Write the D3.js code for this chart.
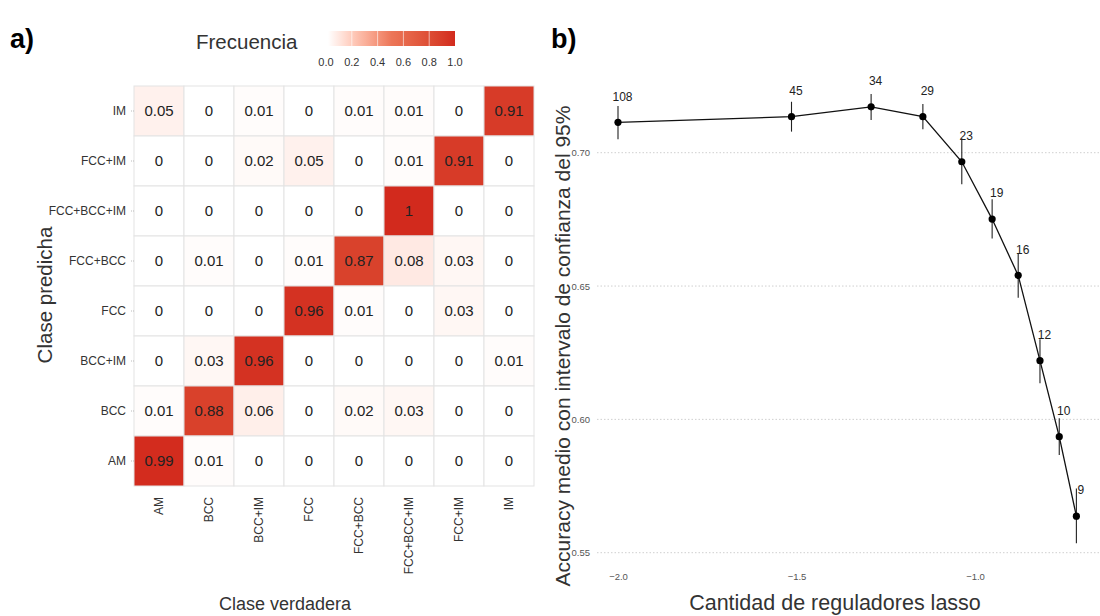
<!DOCTYPE html>
<html><head><meta charset="utf-8">
<script src="https://cdn.jsdelivr.net/npm/d3@7"></script>
<style>
html,body{margin:0;padding:0;background:#fff;}
svg{display:block;font-family:"Liberation Sans",Arial,Helvetica,sans-serif;}
</style></head>
<body><svg id="c" width="1100" height="616"></svg>
<script>
// ---------- Panel a data ----------
const trueClasses = ["AM","BCC","BCC+IM","FCC","FCC+BCC","FCC+BCC+IM","FCC+IM","IM"];
const predClasses = ["IM","FCC+IM","FCC+BCC+IM","FCC+BCC","FCC","BCC+IM","BCC","AM"]; // top to bottom
const matrix = [
  [0.05,0,0.01,0,0.01,0.01,0,0.91],
  [0,0,0.02,0.05,0,0.01,0.91,0],
  [0,0,0,0,0,1,0,0],
  [0,0.01,0,0.01,0.87,0.08,0.03,0],
  [0,0,0,0.96,0.01,0,0.03,0],
  [0,0.03,0.96,0,0,0,0,0.01],
  [0.01,0.88,0.06,0,0.02,0.03,0,0],
  [0.99,0.01,0,0,0,0,0,0]
];
const legendTicks = [0,0.2,0.4,0.6,0.8,1.0];

// ---------- Panel b data ----------
const logLambda = [-2.0,-1.514,-1.291,-1.146,-1.037,-0.952,-0.879,-0.818,-0.764,-0.716];
const accMean   = [0.7114,0.7135,0.7172,0.7135,0.6966,0.6751,0.6540,0.6220,0.5935,0.5637];
const accLower  = [0.7050,0.7079,0.7123,0.7088,0.6882,0.6678,0.6456,0.6135,0.5866,0.5535];
const accUpper  = [0.7175,0.7191,0.7220,0.7183,0.7054,0.6825,0.6623,0.6300,0.6004,0.5741];
const nRegs     = [108,45,34,29,23,19,16,12,10,9];
const yTicks = [0.55,0.60,0.65,0.70];
const xTicks = [-2.0,-1.5,-1.0];

const svg = d3.select("#c");
const txt = "#333";
const FF = "Liberation Sans,Arial,sans-serif";

// ================= Panel a =================
svg.append("text").attr("x",10).attr("y",48).attr("font-size",27).attr("font-weight","bold").text("a)");

const xA = d3.scaleBand().domain(trueClasses).range([134,534]).padding(0);
const yA = d3.scaleBand().domain(predClasses).range([86,486]).padding(0);
const color = d3.scaleLinear().domain([0,0.5,1]).range(["#ffffff","#ec7658","#d22a1d"]).interpolate(d3.interpolateLab);

const cells = [];
matrix.forEach((row,i)=>row.forEach((v,j)=>cells.push({p:predClasses[i],t:trueClasses[j],v})));

const gA = svg.append("g");
gA.selectAll("rect").data(cells).join("rect")
  .attr("x",d=>xA(d.t)).attr("y",d=>yA(d.p))
  .attr("width",xA.bandwidth()).attr("height",yA.bandwidth())
  .attr("fill",d=>color(d.v)).attr("stroke","#e3e3e3").attr("stroke-width",1);
gA.selectAll("text.v").data(cells).join("text").attr("class","v")
  .attr("x",d=>xA(d.t)+xA.bandwidth()/2).attr("y",d=>yA(d.p)+yA.bandwidth()/2)
  .attr("dy","0.35em").attr("text-anchor","middle").attr("font-size",15).attr("fill","#222")
  .text(d=>String(d.v));

// y axis
const yAxA = svg.append("g").attr("transform","translate(134,0)")
  .call(d3.axisLeft(yA).tickSize(4).tickPadding(4));
yAxA.select(".domain").remove();
yAxA.selectAll(".tick line").attr("stroke","#bbb").attr("stroke-dasharray","1,1");
yAxA.selectAll(".tick text").attr("font-size",12).attr("fill",txt).attr("font-family",FF);

// x axis
const xAxA = svg.append("g").attr("transform","translate(0,486)")
  .call(d3.axisBottom(xA).tickSize(0).tickPadding(0));
xAxA.select(".domain").remove();
xAxA.selectAll(".tick text").attr("font-size",12).attr("fill",txt)
  .attr("font-family",FF)
  .attr("transform","translate(0,11) rotate(-90)").attr("text-anchor","end").attr("dy","0.35em").attr("x",0).attr("y",0);

svg.append("text").attr("x",285).attr("y",610).attr("text-anchor","middle").attr("font-size",18).attr("fill",txt).text("Clase verdadera");
svg.append("text").attr("transform","translate(52,295) rotate(-90)").attr("text-anchor","middle").attr("font-size",20.5).attr("fill",txt).text("Clase predicha");

// legend
svg.append("text").attr("x",196).attr("y",49).attr("font-size",20.5).attr("fill",txt).text("Frecuencia");
const defs = svg.append("defs");
const grad = defs.append("linearGradient").attr("id","lg").attr("x1","0%").attr("x2","100%");
d3.range(0,1.0001,0.05).forEach(t=>grad.append("stop").attr("offset",(t*100)+"%").attr("stop-color",color(t)));
const xL = d3.scaleLinear().domain([0,1]).range([326,455]);
svg.append("rect").attr("x",xL(0)+2).attr("y",31).attr("width",xL(1)-xL(0)-2).attr("height",15).attr("fill","url(#lg)");
svg.selectAll("line.lt").data(legendTicks.filter(t=>t>0&&t<1)).join("line").attr("class","lt")
  .attr("x1",d=>xL(d)).attr("x2",d=>xL(d)).attr("y1",31).attr("y2",46).attr("stroke","#fff").attr("stroke-opacity",0.6).attr("stroke-width",1);
svg.selectAll("text.lt").data(legendTicks).join("text").attr("class","lt")
  .attr("x",d=>xL(d)).attr("y",66).attr("text-anchor","middle").attr("font-size",11).attr("fill",txt)
  .text(d=>d3.format(".1f")(d));

// ================= Panel b =================
svg.append("text").attr("x",551).attr("y",48).attr("font-size",27).attr("font-weight","bold").text("b)");

const xB = d3.scaleLinear().domain([-2,-1]).range([618,975]);
const yB = d3.scaleLinear().domain([0.55,0.70]).range([552.7,152.7]);

const gB = svg.append("g");
gB.selectAll("line.grid").data(yTicks).join("line").attr("class","grid")
  .attr("x1",597).attr("x2",1100).attr("y1",d=>yB(d)).attr("y2",d=>yB(d))
  .attr("stroke","#cfcfcf").attr("stroke-width",1).attr("stroke-dasharray","1.5,2");

const yAxB = svg.append("g").attr("transform","translate(595,0)")
  .call(d3.axisLeft(yB).tickValues(yTicks).tickFormat(d3.format(".2f")).tickSize(0).tickPadding(5));
yAxB.select(".domain").remove();
yAxB.selectAll(".tick text").attr("font-size",9.5).attr("fill","#555").attr("font-family",FF);

const xAxB = svg.append("g").attr("transform","translate(0,569)")
  .call(d3.axisBottom(xB).tickValues(xTicks).tickFormat(d3.format(".1f")).tickSize(0).tickPadding(4));
xAxB.select(".domain").remove();
xAxB.selectAll(".tick text").attr("font-size",9.5).attr("fill","#555").attr("font-family",FF);

const pts = logLambda.map((x,i)=>({x,m:accMean[i],lo:accLower[i],hi:accUpper[i],n:nRegs[i]}));

gB.selectAll("line.err").data(pts).join("line").attr("class","err")
  .attr("x1",d=>xB(d.x)).attr("x2",d=>xB(d.x)).attr("y1",d=>yB(d.lo)).attr("y2",d=>yB(d.hi))
  .attr("stroke","#222").attr("stroke-width",1.1);
gB.append("path").datum(pts)
  .attr("d",d3.line().x(d=>xB(d.x)).y(d=>yB(d.m)))
  .attr("fill","none").attr("stroke","#111").attr("stroke-width",1.3);
gB.selectAll("circle").data(pts).join("circle")
  .attr("cx",d=>xB(d.x)).attr("cy",d=>yB(d.m)).attr("r",3.6).attr("fill","#000");
gB.selectAll("text.lab").data(pts).join("text").attr("class","lab")
  .attr("x",d=>xB(d.x)+4.5).attr("y",d=>yB(d.m)-26).attr("dy","0.35em")
  .attr("text-anchor","middle").attr("font-size",12).attr("fill","#222").text(d=>d.n);

svg.append("text").attr("x",835).attr("y",610).attr("text-anchor","middle").attr("font-size",21.5).attr("fill",txt).text("Cantidad de reguladores lasso");
svg.append("text").attr("transform","translate(570,346) rotate(-90)").attr("text-anchor","middle").attr("font-size",21).attr("fill",txt).text("Accuracy medio con intervalo de confianza del 95%");
</script></body></html>
